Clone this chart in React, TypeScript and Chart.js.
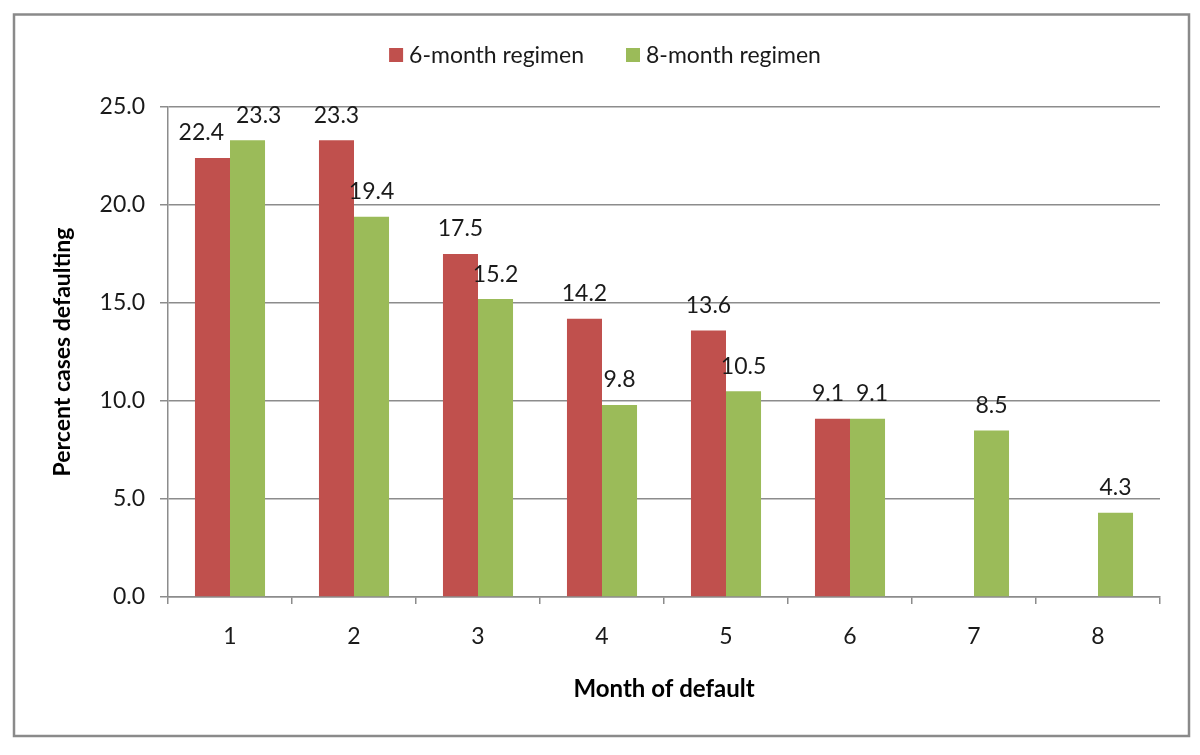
import React, { useEffect, useRef } from "react";
import { Chart, registerables } from "chart.js";

Chart.register(...registerables);

const categories = ["1", "2", "3", "4", "5", "6", "7", "8"];
const seriesNames = ["6-month regimen", "8-month regimen"];
const sixMonth: (number | null)[] = [22.4, 23.3, 17.5, 14.2, 13.6, 9.1, null, null];
const eightMonth: (number | null)[] = [23.3, 19.4, 15.2, 9.8, 10.5, 9.1, 8.5, 4.3];
const seriesColors = ["#C0504D", "#9BBB59"];
const yTicks = [0, 5, 10, 15, 20, 25];

const FONT = "Lato, 'Open Sans', sans-serif";
const TXT = 23;
const GRID = "#8c8c8c";

const framePlugin = {
  id: "frame",
  afterDraw(chart: any) {
    const ctx = chart.ctx;
    ctx.save();
    ctx.strokeStyle = "#8a8a8a";
    ctx.lineWidth = 2.5;
    ctx.strokeRect(14, 14.5, 1175, 721.5);
    ctx.restore();
  },
};

const legendPlugin = {
  id: "customLegend",
  afterDraw(chart: any) {
    const ctx = chart.ctx;
    ctx.save();
    ctx.font = `${TXT}px ${FONT}`;
    ctx.textBaseline = "middle";
    const box = 14;
    const gapBoxText = 6;
    const gapItems = 42;
    const widths = chart.data.datasets.map((d: any) => ctx.measureText(d.label).width);
    let total = 0;
    widths.forEach((w: number, i: number) => {
      total += box + gapBoxText + w + (i < widths.length - 1 ? gapItems : 0);
    });
    let x = chart.width / 2 + 5 - total / 2;
    const y = 55;
    chart.data.datasets.forEach((d: any, i: number) => {
      ctx.fillStyle = d.backgroundColor;
      ctx.fillRect(x, y - box / 2, box, box);
      ctx.fillStyle = "#1a1a1a";
      ctx.fillText(d.label, x + box + gapBoxText, y + 1);
      x += box + gapBoxText + widths[i] + gapItems;
    });
    ctx.restore();
  },
};

const valueLabelPlugin = {
  id: "valueLabels",
  afterDatasetsDraw(chart: any) {
    const ctx = chart.ctx;
    ctx.save();
    ctx.font = `${TXT}px ${FONT}`;
    ctx.fillStyle = "#1a1a1a";
    ctx.textAlign = "center";
    ctx.textBaseline = "middle";
    const n = chart.data.labels.length;
    for (let i = 0; i < n; i++) {
      const items: any[] = [];
      chart.data.datasets.forEach((d: any, di: number) => {
        const v = d.data[i];
        if (v === null || v === undefined) return;
        const bar = chart.getDatasetMeta(di).data[i];
        const text = Number(v).toFixed(1);
        items.push({ text, x: bar.x, y: bar.y - 25, w: ctx.measureText(text).width });
      });
      // simple overlap avoidance between neighbouring labels of a category
      for (let k = 0; k + 1 < items.length; k++) {
        const a = items[k];
        const b = items[k + 1];
        if (Math.abs(a.y - b.y) < TXT) {
          const need = (a.w + b.w) / 2 + 12;
          const have = b.x - a.x;
          if (have < need) {
            const s = (need - have) / 2;
            a.x -= s;
            b.x += s;
          }
        }
      }
      items.forEach((it) => ctx.fillText(it.text, it.x, it.y));
    }
    ctx.restore();
  },
};

export default function App() {
  const ref = useRef<HTMLCanvasElement | null>(null);

  useEffect(() => {
    if (!ref.current) return;
    const chart = new Chart(ref.current, {
      type: "bar",
      data: {
        labels: categories,
        datasets: [
          { label: seriesNames[0], data: sixMonth, backgroundColor: seriesColors[0] },
          { label: seriesNames[1], data: eightMonth, backgroundColor: seriesColors[1] },
        ],
      },
      options: {
        animation: false,
        responsive: false,
        maintainAspectRatio: false,
        layout: { padding: { top: 107, left: 40, right: 40, bottom: 40 } },
        datasets: {
          bar: { categoryPercentage: 0.565, barPercentage: 1 },
        },
        plugins: {
          legend: { display: false },
          tooltip: { enabled: false },
        },
        scales: {
          x: {
            grid: {
              offset: true,
              drawOnChartArea: false,
              drawTicks: true,
              tickLength: 7,
              color: GRID,
              lineWidth: 1.5,
            },
            border: { display: true, color: GRID, width: 1.5 },
            ticks: {
              font: { family: FONT, size: TXT },
              color: "#1a1a1a",
              padding: 19,
            },
            title: {
              display: true,
              text: "Month of default",
              font: { family: FONT, size: 24, weight: "bold" },
              color: "#000",
              padding: { top: 0, bottom: 11 },
            },
            afterFit(scale: any) {
              scale.height = 118;
            },
          },
          y: {
            min: 0,
            max: 25,
            afterBuildTicks(scale: any) {
              scale.ticks = yTicks.map((v) => ({ value: v }));
            },
            grid: {
              drawTicks: true,
              tickLength: 8,
              color: GRID,
              lineWidth: 1.5,
            },
            border: { display: true, color: GRID, width: 1.5 },
            ticks: {
              font: { family: FONT, size: TXT },
              color: "#1a1a1a",
              padding: 15,
              callback: (v: any) => Number(v).toFixed(1),
            },
            title: {
              display: true,
              text: "Percent cases defaulting",
              font: { family: FONT, size: 23, weight: "bold" },
              color: "#000",
              padding: { top: 9, bottom: 0 },
            },
            afterFit(scale: any) {
              scale.width = 128;
            },
          },
        },
      } as any,
      plugins: [valueLabelPlugin, legendPlugin, framePlugin],
    });
    return () => chart.destroy();
  }, []);

  return (
    <div style={{ position: "fixed", left: 0, top: 0, width: 1200, height: 755, background: "#fff" }}>
      <canvas ref={ref} width={1200} height={755} style={{ display: "block" }} />
    </div>
  );
}
